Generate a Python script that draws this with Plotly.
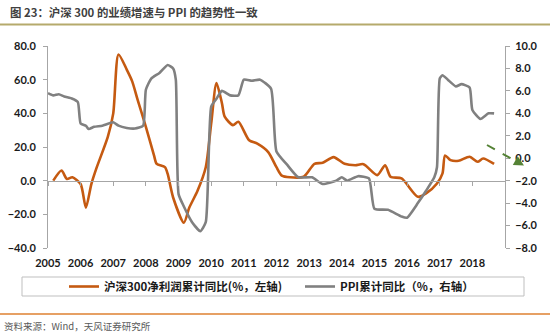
import plotly.graph_objects as go

# ---- data ----
profit_dates = ["2005-03", "2005-06", "2005-08", "2005-10", "2006-01", "2006-03", "2006-05", "2006-07",
                "2006-11", "2007-01", "2007-03", "2007-06", "2007-08", "2007-10", "2008-01", "2008-04",
                "2008-05", "2008-08", "2008-09", "2008-11", "2009-03", "2009-05", "2009-08", "2009-11",
                "2010-01", "2010-03", "2010-05", "2010-06", "2010-09", "2010-11", "2011-03", "2011-06",
                "2011-10", "2012-01", "2012-03", "2012-06", "2012-11", "2013-03", "2013-06", "2013-10",
                "2014-02", "2014-06", "2014-09", "2015-02", "2015-05", "2015-07", "2015-11", "2016-05",
                "2016-08", "2016-12", "2017-02", "2017-03", "2017-05", "2017-08", "2017-12", "2018-03",
                "2018-05", "2018-09"]
profit_values = [0, 6, 1, 2, -2, -16, -2, 8,
                 26, 40, 75, 66, 59, 48, 32, 15,
                 10, 8, 4, -10, -25, -16, -6, 8,
                 34, 58, 46, 38, 33, 35, 24, 22,
                 17, 8, 3, 2, 2.3, 10, 10.6, 14,
                 10, 9.2, 9.8, 3.3, 9.2, 2.3, 1.3, -9.6,
                 -7.6, -1.7, 4.3, 15, 12.2, 11.8, 14.2, 11.2,
                 13.2, 10]

ppi_dates = ["2005-01", "2005-03", "2005-05", "2005-07", "2005-10", "2005-12", "2006-01", "2006-03",
             "2006-04", "2006-06", "2006-09", "2007-01", "2007-03", "2007-06", "2007-09", "2007-12",
             "2008-01", "2008-03", "2008-06", "2008-09", "2008-11", "2008-12", "2009-01", "2009-03",
             "2009-06", "2009-09", "2009-11", "2010-01", "2010-03", "2010-05", "2010-08", "2010-11",
             "2011-01", "2011-04", "2011-07", "2011-11", "2012-01", "2012-05", "2012-09", "2013-02",
             "2013-06", "2013-11", "2014-01", "2014-03", "2014-07", "2014-11", "2015-01", "2015-06",
             "2015-11", "2016-01", "2016-05", "2016-08", "2016-11", "2016-12", "2017-01", "2017-02",
             "2017-04", "2017-07", "2017-09", "2017-12", "2018-01", "2018-04", "2018-07", "2018-09"]
ppi_values = [5.8, 5.6, 5.7, 5.5, 5.3, 5.0, 3.1, 2.9,
              2.6, 2.8, 2.9, 3.2, 2.9, 2.7, 2.65, 2.9,
              6.1, 7.1, 7.6, 8.3, 8.0, 7.0, -3.2, -4.3,
              -5.7, -6.5, -5.7, 4.6, 5.3, 6.0, 5.6, 5.6,
              7.0, 6.9, 7.0, 6.2, 0.6, -0.6, -1.7, -1.7,
              -2.3, -2.0, -1.7, -2.0, -1.6, -1.8, -4.5, -4.6,
              -5.2, -5.3, -4.0, -2.9, -1.7, -0.8, 7.1, 7.4,
              7.0, 6.4, 6.6, 6.3, 4.3, 3.5, 4.0, 4.0]

year_ticks = ["2005-01-01", "2006-01-01", "2007-01-01", "2008-01-01", "2009-01-01", "2010-01-01",
              "2011-01-01", "2012-01-01", "2013-01-01", "2014-01-01", "2015-01-01", "2016-01-01",
              "2017-01-01", "2018-01-01", "2019-01-01"]
year_labels = ["2005", "2006", "2007", "2008", "2009", "2010", "2011", "2012", "2013", "2014",
               "2015", "2016", "2017", "2018", ""]

left_ticks = [-40, -20, 0, 20, 40, 60, 80]
right_ticks = [-8, -6, -4, -2, 0, 2, 4, 6, 8, 10]

name_profit = "沪深300净利润累计同比(%，左轴)"
name_ppi = "PPI累计同比（%，右轴）"
title_text = "图 23：沪深 300 的业绩增速与 PPI 的趋势性一致"
source_text = "资料来源：Wind，天风证券研究所"

ORANGE = "#c55a11"
GRAY = "#808080"
FONT = "Lato, 'Noto Sans CJK SC', sans-serif"
CJK = "'Noto Sans CJK SC', sans-serif"

fig = go.Figure()
fig.add_trace(go.Scatter(x=profit_dates, y=profit_values, name=name_profit, mode="lines",
                         line=dict(color=ORANGE, width=2.6, shape="spline", smoothing=0.7),
                         yaxis="y", legend="legend"))
fig.add_trace(go.Scatter(x=ppi_dates, y=ppi_values, name=name_ppi, mode="lines",
                         line=dict(color=GRAY, width=2.6, shape="spline", smoothing=0.5),
                         yaxis="y2", legend="legend2"))

axis_line = "#a6a6a6"
leg_font = dict(family=CJK, size=11.5, color="#1a1a1a", weight="bold")
fig.update_layout(
    width=550, height=334,
    margin=dict(l=48, r=45, t=46, b=86, autoexpand=False),
    paper_bgcolor="white", plot_bgcolor="white",
    font=dict(family=FONT, size=11, color="#1a1a1a"),
    showlegend=True,
    title=dict(text="<b>" + title_text + "</b>", xref="container", yref="container",
               x=10 / 550, xanchor="left", y=1 - 13 / 334, yanchor="middle",
               font=dict(family=CJK, size=11.4, color="#404040")),
    xaxis=dict(type="date", range=["2005-01-01", "2019-01-01"], anchor="free", position=1 / 3,
               showline=True, linecolor=axis_line, linewidth=1, ticks="outside", ticklen=4,
               tickcolor=axis_line, tickvals=year_ticks, ticktext=year_labels,
               ticklabelstandoff=68, showgrid=False, zeroline=False,
               tickfont=dict(family=FONT, size=11, color="#1a1a1a", weight="bold")),
    yaxis=dict(range=[-40, 80], tickvals=left_ticks, tickformat=".1f", showline=True,
               linecolor=axis_line, ticks="outside", ticklen=4, tickcolor=axis_line,
               showgrid=False, zeroline=False, ticklabelstandoff=5,
               tickfont=dict(family=FONT, size=11, color="#1a1a1a", weight="bold")),
    yaxis2=dict(range=[-8, 10], tickvals=right_ticks, tickformat=".1f", overlaying="y", side="right",
                showline=True, linecolor=axis_line, ticks="outside", ticklen=4, tickcolor=axis_line,
                showgrid=False, zeroline=False, ticklabelstandoff=3,
                tickfont=dict(family=FONT, size=11, color="#1a1a1a", weight="bold")),
    legend=dict(orientation="h", xref="container", yref="container", x=64 / 550, xanchor="left",
                y=1 - 286.5 / 334, yanchor="middle",
                bgcolor="rgba(0,0,0,0)", borderwidth=0, font=leg_font),
    legend2=dict(orientation="h", xref="container", yref="container", x=300 / 550, xanchor="left",
                 y=1 - 286.5 / 334, yanchor="middle",
                 bgcolor="rgba(0,0,0,0)", borderwidth=0, font=leg_font),
)

def px_x(p):
    return (p - 48) / 457

def px_y(p):
    return (248 - p) / 202

shapes = [
    dict(type="line", xref="paper", yref="paper", x0=px_x(0), x1=px_x(550), y0=px_y(24.5), y1=px_y(24.5),
         line=dict(color="#b5aa6c", width=2)),
    dict(type="rect", xref="paper", yref="paper", x0=px_x(22), x1=px_x(524), y0=px_y(277), y1=px_y(296),
         line=dict(color="#bfbfbf", width=1)),
    dict(type="line", xref="paper", yref="paper", x0=px_x(0), x1=px_x(550), y0=px_y(314), y1=px_y(314),
         line=dict(color="#e6a064", width=2)),
    dict(type="line", xref="paper", yref="paper", x0=px_x(487), x1=px_x(519), y0=px_y(145), y1=px_y(163),
         line=dict(color="#548235", width=2, dash="dash")),
]
fig.update_layout(shapes=shapes)

fig.add_annotation(xref="paper", yref="paper", x=px_x(524), y=px_y(165.5), ax=-8, ay=-4.5,
                   axref="pixel", ayref="pixel", text="", showarrow=True, arrowhead=2,
                   arrowsize=1, arrowwidth=2, arrowcolor="#548235")
fig.add_annotation(xref="paper", yref="paper", x=px_x(2), y=px_y(326), xanchor="left", yanchor="middle",
                   text=source_text, showarrow=False,
                   font=dict(family=CJK, size=9.5, color="#595959"))

fig.write_html("out.html")
